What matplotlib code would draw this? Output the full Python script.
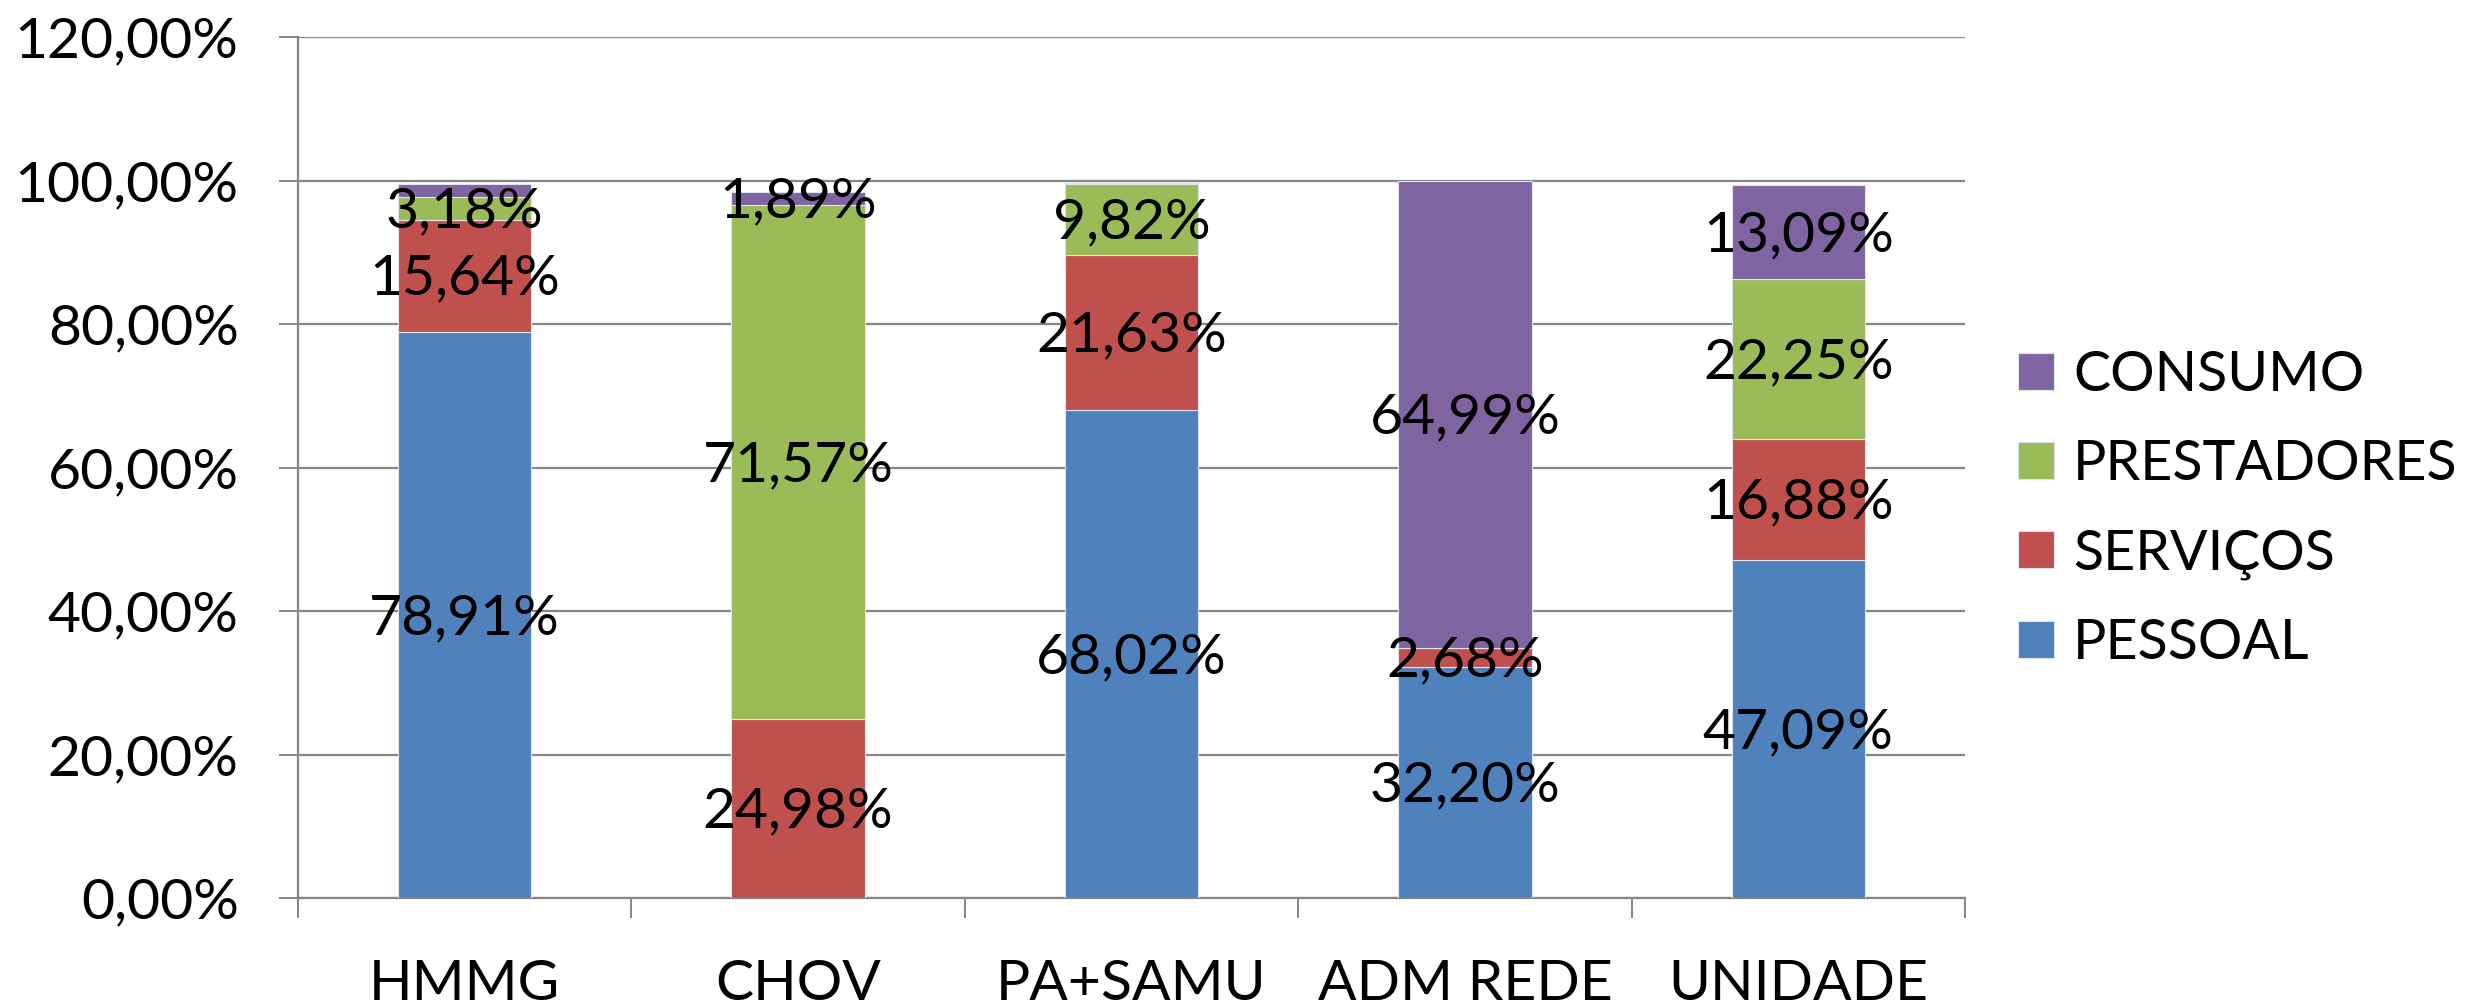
import numpy as np
import matplotlib.pyplot as plt
from matplotlib.ticker import FuncFormatter, FixedLocator

plt.rcParams['font.family'] = ['Lato', 'DejaVu Sans']

# =====================================
# DATA
# =====================================

categories = ["HMMG", "CHOV", "PA+SAMU", "ADM REDE", "UNIDADE"]

pessoal = [78.91, 0.00, 68.02, 32.20, 47.09]
servicos = [15.64, 24.98, 21.63, 2.68, 16.88]
prestadores = [3.18, 71.57, 9.82, 0.00, 22.25]
consumo = [1.74, 1.89, 0.25, 64.99, 13.09]

series_names = ["PESSOAL", "SERVIÇOS", "PRESTADORES", "CONSUMO"]
series_values = [pessoal, servicos, prestadores, consumo]
colors = ["#4F81BD", "#C0504D", "#9BBB59", "#8064A2"]

# =====================================
# PLOT
# =====================================

fig = plt.figure(figsize=(24.73, 10.08), dpi=100)
ax = fig.add_axes([298 / 2473, 1 - 898 / 1008, (1965 - 298) / 2473, (898 - 37) / 1008])

x = np.arange(len(categories))
bottom = np.zeros(len(categories))
handles = []
for name, vals, col in zip(series_names, series_values, colors):
    vals = np.array(vals)
    bars = ax.bar(x, vals, width=0.4, bottom=bottom, color=col,
                  edgecolor="#dde6f0", linewidth=0.8, label=name, zorder=3)
    handles.append(bars)
    for xi, b, v in zip(x, bottom, vals):
        # tiny segments carry no label in the original
        if v >= 1.8:
            ax.text(xi, b + v / 2 - 0.5, f"{v:.2f}%".replace(".", ","),
                    ha="center", va="center", fontsize=41, zorder=4)
    bottom += vals

ax.set_ylim(0, 120)
ax.set_xlim(-0.5, len(categories) - 0.5)
ax.set_yticks(np.arange(0, 121, 20))
ax.yaxis.set_major_formatter(FuncFormatter(lambda v, p: f"{v:.2f}%".replace(".", ",")))
ax.grid(axis="y", color="#868686", linewidth=1.6, zorder=0)

ax.set_xticks(x)
ax.set_xticklabels(categories)
ax.xaxis.set_minor_locator(FixedLocator(np.arange(-0.5, len(categories), 1.0)))
ax.tick_params(axis="x", which="major", length=0, pad=44, labelsize=41)
ax.tick_params(axis="x", which="minor", length=14.5, width=1.4, color="#868686", direction="out")
ax.tick_params(axis="y", length=13.7, width=1.4, color="#868686", pad=29, labelsize=41)

for side in ["top", "right"]:
    ax.spines[side].set_visible(False)
for side in ["left", "bottom"]:
    ax.spines[side].set_color("#868686")
    ax.spines[side].set_linewidth(1.6)

ax.legend(handles[::-1], series_names[::-1], loc="center left",
          bbox_to_anchor=(2018 / 2473, 1 - 509.5 / 1008), bbox_transform=fig.transFigure,
          frameon=False, fontsize=40, handlelength=0.65, handleheight=0.65,
          handletextpad=0.34, labelspacing=0.69, borderpad=0, borderaxespad=0)

plt.savefig("out.png", dpi=100)
